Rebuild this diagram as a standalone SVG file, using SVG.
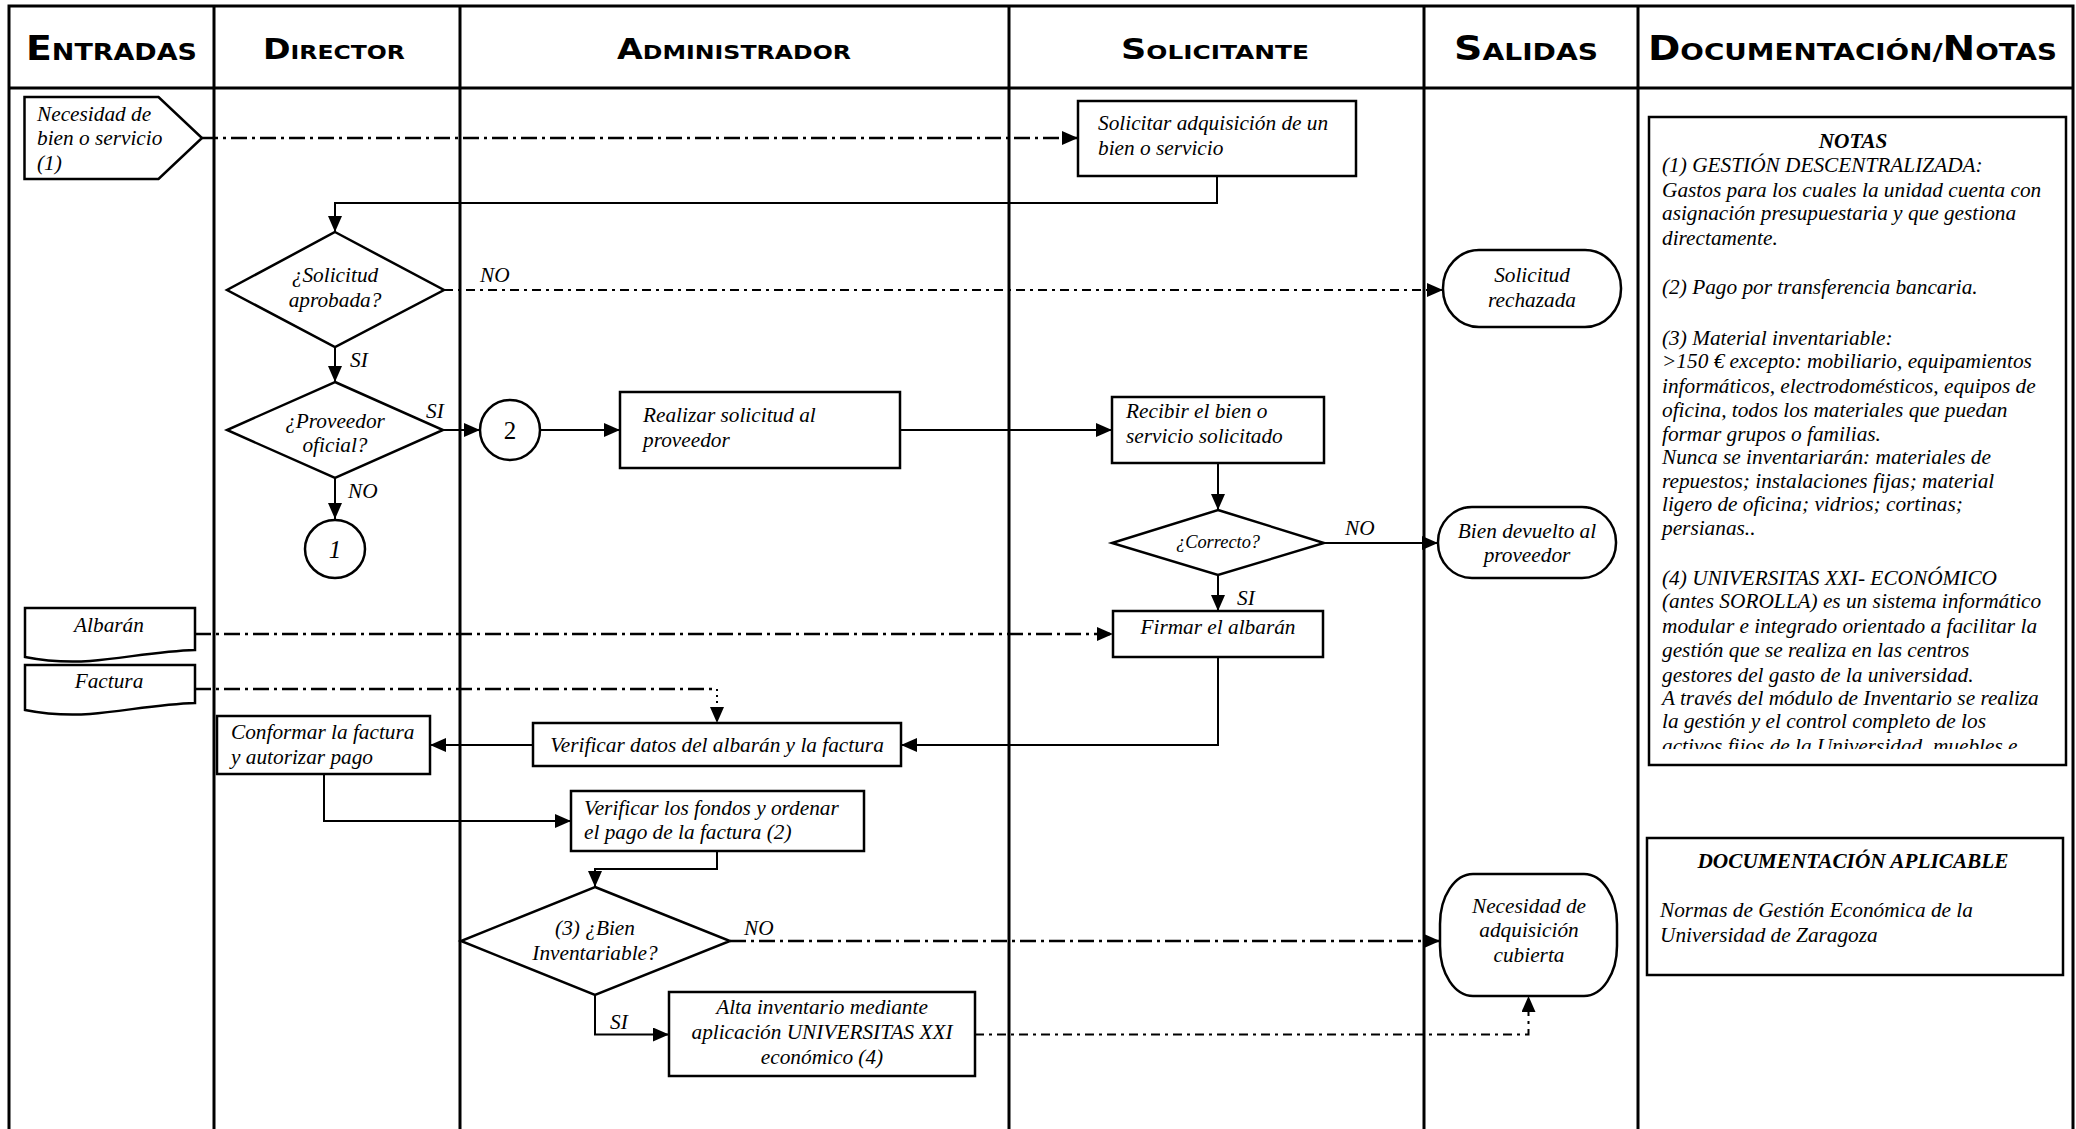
<svg xmlns="http://www.w3.org/2000/svg" width="2076" height="1129" viewBox="0 0 2076 1129">
<defs>
<marker id="ar" markerUnits="userSpaceOnUse" markerWidth="17" markerHeight="15" refX="16" refY="7" orient="auto">
<path d="M0,0 L16,7 L0,14 Z" fill="#000"/>
</marker>
<clipPath id="notesClip"><rect x="1650" y="118" width="414" height="631"/></clipPath>
</defs>
<style>
.frame{fill:none;stroke:#000;stroke-width:3}
.box{fill:#fff;stroke:#000;stroke-width:2.5}
.t{font-family:"Liberation Serif","Times New Roman",serif;font-style:italic;font-size:21.3px;fill:#000}
.c{text-anchor:middle}
.hd{font-family:"DejaVu Sans","Liberation Sans",sans-serif;font-weight:bold;fill:#000}
.ln{fill:none;stroke:#000;stroke-width:2}
.dl{fill:none;stroke:#000;stroke-width:2.5;stroke-dasharray:16 5 3 5}
.ds{fill:none;stroke:#000;stroke-width:2;stroke-dasharray:9 5 3 5}
.dt{fill:none;stroke:#000;stroke-width:2;stroke-dasharray:2 4}
</style>
<rect width="2076" height="1129" fill="#fff"/>
<g id="lanes">
<path class="frame" d="M9,1129 V6 H2073 V1129"/>
<path class="frame" d="M9,88 H2073"/>
<path class="frame" d="M214,6 V1129 M460,6 V1129 M1009,6 V1129 M1424,6 V1129 M1638,6 V1129"/>
<text class="hd" x="26" y="60" textLength="171" lengthAdjust="spacingAndGlyphs"><tspan font-size="33">E</tspan><tspan font-size="23.5">NTRADAS</tspan></text>
<text class="hd" x="263" y="59" textLength="142" lengthAdjust="spacingAndGlyphs"><tspan font-size="27.5">D</tspan><tspan font-size="19.5">IRECTOR</tspan></text>
<text class="hd" x="617" y="59" textLength="234" lengthAdjust="spacingAndGlyphs"><tspan font-size="27.5">A</tspan><tspan font-size="19.5">DMINISTRADOR</tspan></text>
<text class="hd" x="1121" y="59" textLength="188" lengthAdjust="spacingAndGlyphs"><tspan font-size="27.5">S</tspan><tspan font-size="19.5">OLICITANTE</tspan></text>
<text class="hd" x="1454" y="60" textLength="144" lengthAdjust="spacingAndGlyphs"><tspan font-size="33">S</tspan><tspan font-size="23.5">ALIDAS</tspan></text>
<text class="hd" x="1648" y="60" textLength="409" lengthAdjust="spacingAndGlyphs"><tspan font-size="33">D</tspan><tspan font-size="23.5">OCUMENTACIÓN/</tspan><tspan font-size="33">N</tspan><tspan font-size="23.5">OTAS</tspan></text>
</g>
<g id="connectors">
<path class="dl" d="M202,138 H1078" marker-end="url(#ar)"/>
<path class="ln" d="M1217,176 V203 H335 V232" marker-end="url(#ar)"/>
<path class="ds" d="M444,290 H1443" marker-end="url(#ar)"/>
<path class="ln" d="M335,347 V382" marker-end="url(#ar)"/>
<path class="ln" d="M443,430 H480" marker-end="url(#ar)"/>
<path class="ln" d="M540,430 H620" marker-end="url(#ar)"/>
<path class="ln" d="M335,478 V519" marker-end="url(#ar)"/>
<path class="ln" d="M900,430 H1112" marker-end="url(#ar)"/>
<path class="ln" d="M1218,463 V510" marker-end="url(#ar)"/>
<path class="ln" d="M1324,543 H1438" marker-end="url(#ar)"/>
<path class="ln" d="M1218,575 V611" marker-end="url(#ar)"/>
<path class="dl" d="M195,634 H1113" marker-end="url(#ar)"/>
<path class="dl" d="M195,689 H717"/>
<path class="dt" d="M717,689 V723" marker-end="url(#ar)"/>
<path class="ln" d="M1218,657 V745 H901" marker-end="url(#ar)"/>
<path class="ln" d="M533,745 H430" marker-end="url(#ar)"/>
<path class="ln" d="M324,774 V821 H571" marker-end="url(#ar)"/>
<path class="ln" d="M717,851 V869 H595 V887" marker-end="url(#ar)"/>
<path class="dl" d="M730,941 H1440" marker-end="url(#ar)"/>
<path class="ln" d="M595,995 V1034.5 H669" marker-end="url(#ar)"/>
<path class="ds" d="M975,1034.5 H1528.5 V996" marker-end="url(#ar)"/>
<text class="t" x="480" y="282">NO</text>
<text class="t" x="350" y="367">SI</text>
<text class="t" x="426" y="418">SI</text>
<text class="t" x="348" y="498">NO</text>
<text class="t" x="1345" y="535">NO</text>
<text class="t" x="1237" y="605">SI</text>
<text class="t" x="744" y="935">NO</text>
<text class="t" x="610" y="1029">SI</text>
</g>
<g id="n-necesidad">
<path class="box" d="M24.5,97 H158.5 L202,138 L158.5,179 H24.5 Z"/>
<text class="t" x="37" y="121">Necesidad de</text>
<text class="t" x="37" y="145">bien o servicio</text>
<text class="t" x="37" y="170">(1)</text>
</g>
<g id="n-solicitar">
<rect class="box" x="1078" y="101" width="278" height="75"/>
<text class="t" x="1098" y="130">Solicitar adquisición de un</text>
<text class="t" x="1098" y="155">bien o servicio</text>
</g>
<g id="n-aprobada">
<path class="box" d="M335,232 L444,290 L335,347 L227,290 Z"/>
<text class="t c" x="335" y="282">¿Solicitud</text>
<text class="t c" x="335" y="307">aprobada?</text>
</g>
<g id="n-rechazada">
<rect class="box" x="1443" y="250" width="178" height="77" rx="36" ry="38"/>
<text class="t c" x="1532" y="282">Solicitud</text>
<text class="t c" x="1532" y="307">rechazada</text>
</g>
<g id="n-proveedor">
<path class="box" d="M335,382 L443,430 L335,478 L227,430 Z"/>
<text class="t c" x="335" y="428">¿Proveedor</text>
<text class="t c" x="335" y="452">oficial?</text>
</g>
<g id="n-c2">
<circle class="box" cx="510" cy="430" r="30"/>
<text x="510" y="439" text-anchor="middle" font-family="Liberation Serif, serif" font-size="25">2</text>
</g>
<g id="n-c1">
<ellipse class="box" cx="335" cy="549" rx="30" ry="29"/>
<text class="c" x="335" y="558" font-family="Liberation Serif, serif" font-style="italic" font-size="25">1</text>
</g>
<g id="n-realizar">
<rect class="box" x="620" y="392" width="280" height="76"/>
<text class="t" x="643" y="422">Realizar solicitud al</text>
<text class="t" x="643" y="447">proveedor</text>
</g>
<g id="n-recibir">
<rect class="box" x="1112" y="397" width="212" height="66"/>
<text class="t" x="1126" y="418">Recibir el bien o</text>
<text class="t" x="1126" y="443">servicio solicitado</text>
</g>
<g id="n-correcto">
<path class="box" d="M1218,510 L1324,543 L1218,575 L1112,543 Z"/>
<text class="t c" x="1218" y="548" style="font-size:18.4px">¿Correcto?</text>
</g>
<g id="n-devuelto">
<rect class="box" x="1438" y="507" width="178" height="71" rx="34" ry="35"/>
<text class="t c" x="1527" y="538">Bien devuelto al</text>
<text class="t c" x="1527" y="562">proveedor</text>
</g>
<g id="n-firmar">
<rect class="box" x="1113" y="611" width="210" height="46"/>
<text class="t c" x="1218" y="634">Firmar el albarán</text>
</g>
<g id="n-albaran">
<path class="box" d="M25,608 H195 V650 C160,651 125,658 90,661 C60,663 40,660 25,657 Z"/>
<text class="t c" x="109" y="632">Albarán</text>
</g>
<g id="n-factura">
<path class="box" d="M25,665 H195 V703 C160,704 125,711 90,714 C60,716 40,713 25,710 Z"/>
<text class="t c" x="109" y="688">Factura</text>
</g>
<g id="n-verificar">
<rect class="box" x="533" y="723" width="368" height="43"/>
<text class="t c" x="717" y="752">Verificar datos del albarán y la factura</text>
</g>
<g id="n-conformar">
<rect class="box" x="217" y="716" width="213" height="58"/>
<text class="t" x="231" y="739">Conformar la factura</text>
<text class="t" x="231" y="764">y autorizar pago</text>
</g>
<g id="n-fondos">
<rect class="box" x="571" y="791" width="293" height="60"/>
<text class="t" x="584" y="815">Verificar los fondos y ordenar</text>
<text class="t" x="584" y="839">el pago de la factura (2)</text>
</g>
<g id="n-inventariable">
<path class="box" d="M595,887 L730,941 L595,995 L461,941 Z"/>
<text class="t c" x="595" y="935">(3) ¿Bien</text>
<text class="t c" x="595" y="960">Inventariable?</text>
</g>
<g id="n-cubierta">
<rect class="box" x="1440" y="874" width="177" height="122" rx="33" ry="50"/>
<text class="t c" x="1529" y="913">Necesidad de</text>
<text class="t c" x="1529" y="937">adquisición</text>
<text class="t c" x="1529" y="962">cubierta</text>
</g>
<g id="n-alta">
<rect class="box" x="669" y="992" width="306" height="84"/>
<text class="t c" x="822" y="1014">Alta inventario mediante</text>
<text class="t c" x="822" y="1039">aplicación UNIVERSITAS XXI</text>
<text class="t c" x="822" y="1064">económico (4)</text>
</g>
<g id="n-notas">
<rect class="box" x="1649" y="117" width="417" height="648" stroke-width="3"/>
<text class="t c" x="1853" y="148" font-weight="bold">NOTAS</text>
<g clip-path="url(#notesClip)">
<text class="t" x="1662" y="172">(1) GESTIÓN DESCENTRALIZADA:</text>
<text class="t" x="1662" y="197">Gastos para los cuales la unidad cuenta con</text>
<text class="t" x="1662" y="220">asignación presupuestaria y que gestiona</text>
<text class="t" x="1662" y="245">directamente.</text>
<text class="t" x="1662" y="294">(2) Pago por transferencia bancaria.</text>
<text class="t" x="1662" y="345">(3) Material inventariable:</text>
<text class="t" x="1662" y="368">&gt;150 € excepto: mobiliario, equipamientos</text>
<text class="t" x="1662" y="393">informáticos, electrodomésticos, equipos de</text>
<text class="t" x="1662" y="417">oficina, todos los materiales que puedan</text>
<text class="t" x="1662" y="441">formar grupos o familias.</text>
<text class="t" x="1662" y="464">Nunca se inventariarán: materiales de</text>
<text class="t" x="1662" y="488">repuestos; instalaciones fijas; material</text>
<text class="t" x="1662" y="511">ligero de oficina; vidrios; cortinas;</text>
<text class="t" x="1662" y="535">persianas..</text>
<text class="t" x="1662" y="585">(4) UNIVERSITAS XXI- ECONÓMICO</text>
<text class="t" x="1662" y="608">(antes SOROLLA) es un sistema informático</text>
<text class="t" x="1662" y="633">modular e integrado orientado a facilitar la</text>
<text class="t" x="1662" y="657">gestión que se realiza en las centros</text>
<text class="t" x="1662" y="682">gestores del gasto de la universidad.</text>
<text class="t" x="1662" y="705">A través del módulo de Inventario se realiza</text>
<text class="t" x="1662" y="728">la gestión y el control completo de los</text>
<text class="t" x="1662" y="753">activos fijos de la Universidad, muebles e</text>
</g>
</g>
<g id="n-documentacion">
<rect class="box" x="1647" y="838" width="416" height="137" stroke-width="3"/>
<text class="t c" x="1853" y="868" font-weight="bold">DOCUMENTACIÓN APLICABLE</text>
<text class="t" x="1660" y="917">Normas de Gestión Económica de la</text>
<text class="t" x="1660" y="942">Universidad de Zaragoza</text>
</g>
</svg>
